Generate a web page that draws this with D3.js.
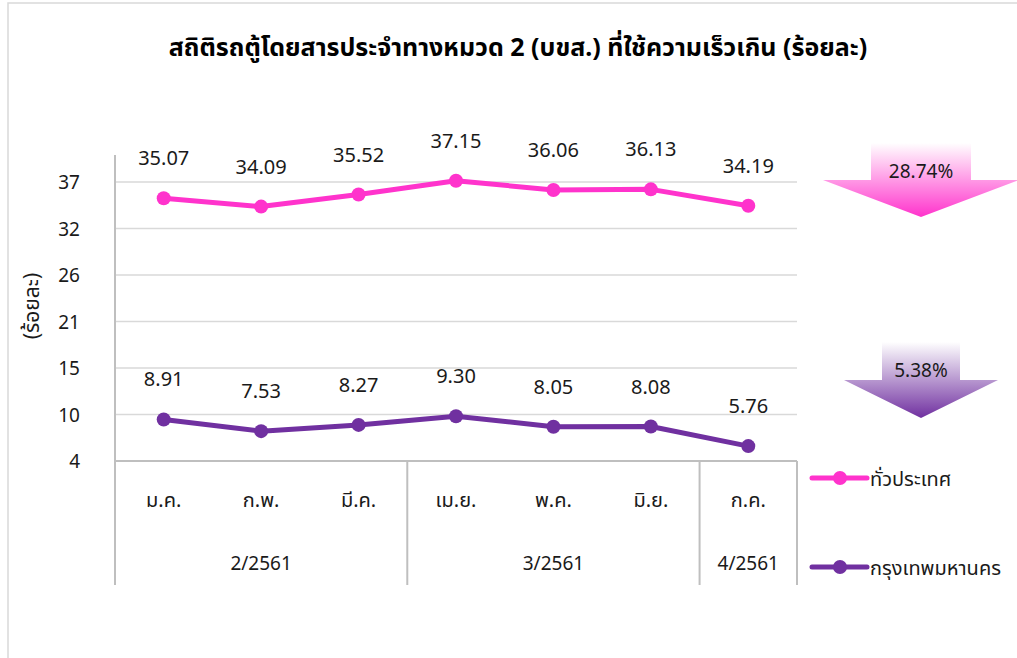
<!DOCTYPE html>
<html>
<head>
<meta charset="utf-8">
<script src="https://cdn.jsdelivr.net/npm/d3@7"></script>
<style>
  body { margin: 0; background: #fff; }
  svg text { font-family: "Noto Sans", "Noto Sans Thai", "DejaVu Sans", sans-serif; fill: #1a1a1a; }
</style>
</head>
<body>
<div id="chart"></div>
<script>
// Chart data
const months = ["ม.ค.", "ก.พ.", "มี.ค.", "เม.ย.", "พ.ค.", "มิ.ย.", "ก.ค."];
const groups = [
    { label: "2/2561", from: 0, to: 2 },
    { label: "3/2561", from: 3, to: 5 },
    { label: "4/2561", from: 6, to: 6 }
];
const countryValues = [35.07, 34.09, 35.52, 37.15, 36.06, 36.13, 34.19];
const bangkokValues = [8.91, 7.53, 8.27, 9.30, 8.05, 8.08, 5.76];
const seriesNames = ["ทั่วประเทศ", "กรุงเทพมหานคร"];
const changeLabels = ["28.74%", "5.38%"];
const yTicks = [4, 9.5, 15, 20.5, 26, 31.5, 37];

const width = 1017;
const height = 658;
const plot = { left: 115, right: 797, top: 182, bottom: 461 };
const colors = ["#ff33cc", "#7030a0"];

const svg = d3.select("#chart").append("svg")
    .attr("width", width)
    .attr("height", height);

// Gradients for the arrows
const defs = svg.append("defs");
colors.forEach((c, i) => {
    const g = defs.append("linearGradient")
        .attr("id", "grad" + i)
        .attr("x1", 0).attr("y1", 0).attr("x2", 0).attr("y2", 1);
    g.append("stop").attr("offset", "0%").attr("stop-color", "#fff");
    g.append("stop").attr("offset", "100%").attr("stop-color", c);
});

// Outer chart frame
svg.append("rect")
    .attr("x", 8).attr("y", 3)
    .attr("width", 1040).attr("height", 700)
    .attr("fill", "none")
    .attr("stroke", "#d9d9d9")
    .attr("stroke-width", 1.5);

// Title
svg.append("text")
    .attr("x", 518)
    .attr("y", 56)
    .attr("text-anchor", "middle")
    .style("font-size", "25px")
    .style("font-weight", "bold")
    .style("fill", "#000")
    .text("สถิติรถตู้โดยสารประจำทางหมวด 2 (บขส.) ที่ใช้ความเร็วเกิน (ร้อยละ)");

const x = d3.scaleBand()
    .domain(d3.range(months.length))
    .range([plot.left, plot.right]);

const y = d3.scaleLinear()
    .domain([4, 37])
    .range([plot.bottom, plot.top]);

const cx = i => x(i) + x.bandwidth() / 2;

// Gridlines
svg.append("g")
    .selectAll("line")
    .data(yTicks.slice(1))
    .enter()
    .append("line")
    .attr("x1", plot.left)
    .attr("x2", plot.right)
    .attr("y1", d => y(d))
    .attr("y2", d => y(d))
    .attr("stroke", "#d9d9d9")
    .attr("stroke-width", 1.5);

// Y axis tick labels
svg.append("g")
    .selectAll("text")
    .data(yTicks)
    .enter()
    .append("text")
    .attr("x", 80)
    .attr("y", d => y(d) + 7)
    .attr("text-anchor", "end")
    .style("font-size", "19px")
    .text(d => Math.round(d));

// Y axis title
svg.append("text")
    .attr("transform", "translate(39,306) rotate(-90)")
    .attr("text-anchor", "middle")
    .style("font-size", "21px")
    .text("(ร้อยละ)");

// Category axis lines
const axisColor = "#bfbfbf";
svg.append("line")
    .attr("x1", plot.left).attr("x2", plot.right)
    .attr("y1", plot.bottom).attr("y2", plot.bottom)
    .attr("stroke", axisColor).attr("stroke-width", 2);
svg.append("line")
    .attr("x1", plot.left).attr("x2", plot.left)
    .attr("y1", 155).attr("y2", 585)
    .attr("stroke", axisColor).attr("stroke-width", 2);
svg.append("g")
    .selectAll("line")
    .data(groups)
    .enter()
    .append("line")
    .attr("x1", d => x(d.to) + x.bandwidth())
    .attr("x2", d => x(d.to) + x.bandwidth())
    .attr("y1", plot.bottom)
    .attr("y2", 585)
    .attr("stroke", axisColor)
    .attr("stroke-width", 2);

// Month labels
svg.append("g")
    .selectAll("text")
    .data(months)
    .enter()
    .append("text")
    .attr("x", (d, i) => cx(i))
    .attr("y", 507)
    .attr("text-anchor", "middle")
    .style("font-size", "20px")
    .text(d => d);

// Group labels
svg.append("g")
    .selectAll("text")
    .data(groups)
    .enter()
    .append("text")
    .attr("x", d => (x(d.from) + x(d.to) + x.bandwidth()) / 2)
    .attr("y", 570)
    .attr("text-anchor", "middle")
    .style("font-size", "19px")
    .text(d => d.label);

// Series lines, markers and labels
const line = d3.line()
    .x((d, i) => cx(i))
    .y(d => y(d));

[countryValues, bangkokValues].forEach((values, s) => {
    const g = svg.append("g");
    g.append("path")
        .datum(values)
        .attr("d", line)
        .attr("fill", "none")
        .attr("stroke", colors[s])
        .attr("stroke-width", 5)
        .attr("stroke-linejoin", "round");
    g.selectAll("circle")
        .data(values)
        .enter()
        .append("circle")
        .attr("cx", (d, i) => cx(i))
        .attr("cy", d => y(d))
        .attr("r", 7)
        .attr("fill", colors[s]);
    g.selectAll("text")
        .data(values)
        .enter()
        .append("text")
        .attr("x", (d, i) => cx(i))
        .attr("y", d => y(d) - 33)
        .attr("text-anchor", "middle")
        .style("font-size", "20px")
        .text(d => d.toFixed(2));
});

// Down arrows showing change
const arrows = [
    { tipX: 921, top: 143, neck: 180, tip: 217, shaft: 50, head: 98, labelY: 178 },
    { tipX: 921, top: 342, neck: 380, tip: 418, shaft: 39, head: 77, labelY: 377 }
];
arrows.forEach((a, i) => {
    const pts = [
        [a.tipX - a.shaft, a.top], [a.tipX + a.shaft, a.top],
        [a.tipX + a.shaft, a.neck], [a.tipX + a.head, a.neck],
        [a.tipX, a.tip], [a.tipX - a.head, a.neck],
        [a.tipX - a.shaft, a.neck]
    ];
    svg.append("polygon")
        .attr("points", pts.map(p => p.join(",")).join(" "))
        .attr("fill", `url(#grad${i})`);
    svg.append("text")
        .attr("x", a.tipX)
        .attr("y", a.labelY)
        .attr("text-anchor", "middle")
        .style("font-size", "19px")
        .text(changeLabels[i]);
});

// Legend
const legendY = [478, 567];
seriesNames.forEach((name, i) => {
    const g = svg.append("g");
    g.append("line")
        .attr("x1", 812).attr("x2", 867)
        .attr("y1", legendY[i]).attr("y2", legendY[i])
        .attr("stroke", colors[i])
        .attr("stroke-width", 5)
        .attr("stroke-linecap", "round");
    g.append("circle")
        .attr("cx", 840).attr("cy", legendY[i])
        .attr("r", 7)
        .attr("fill", colors[i]);
    g.append("text")
        .attr("x", 870)
        .attr("y", legendY[i] + 8)
        .style("font-size", "20px")
        .text(name);
});
</script>
</body>
</html>
